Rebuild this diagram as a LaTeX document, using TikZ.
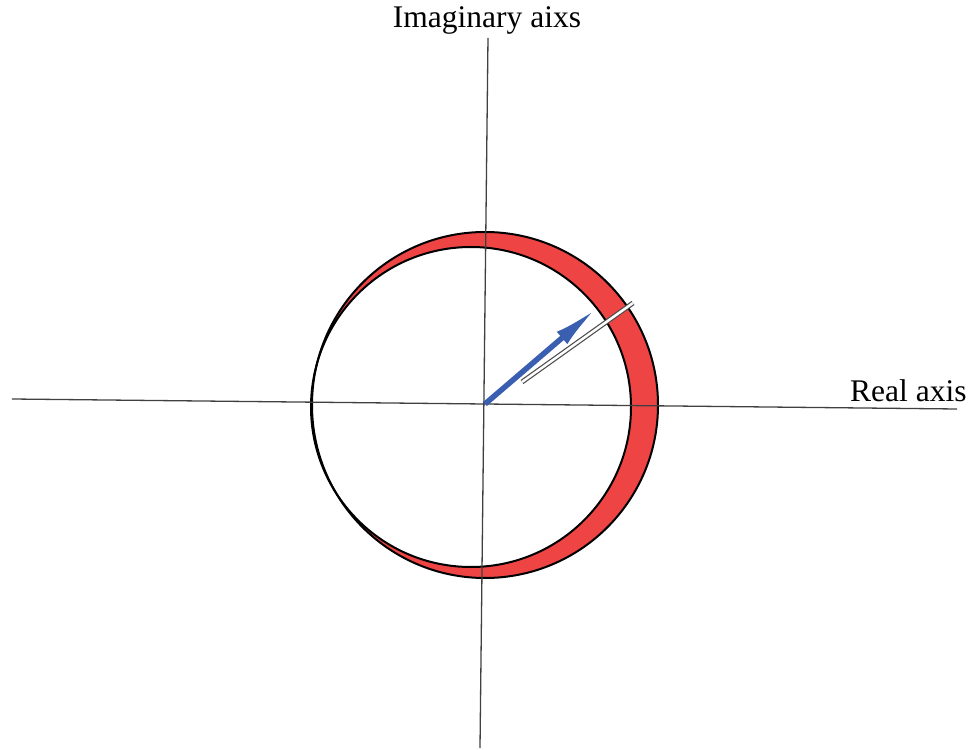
\documentclass[tikz,border=0pt]{standalone}
\usepackage{fontspec}
\setmainfont{Liberation Serif}
\usetikzlibrary{arrows.meta}
\definecolor{crescentred}{RGB}{238,68,68}
\definecolor{phasorblue}{RGB}{58,95,176}

\begin{document}
\begin{tikzpicture}[x=1pt, y=1pt,
  axis/.style={black!75, line width=1.3pt},
  ring/.style={draw=black, line width=2pt},
  lbl/.style={inner sep=0pt, font=\fontsize{31.5}{38}\selectfont},
  arr/.style={-{Latex[length=46pt, width=16pt]}, line width=5.5pt, phasorblue},
  ref/.style={draw=black!70, line width=1.2pt, double=white, double distance=2.5pt}
]
\useasboundingbox (-485,-345) rectangle (486,404);
\coordinate (O)  at (0,0);
\coordinate (xL) at (-473,5);
\coordinate (xR) at (472,-5);
\coordinate (yT) at (3,366);
\coordinate (yB) at (-5,-344);
\node[lbl, anchor=base]      (imag) at (2,376)  {Imaginary aixs};
\node[lbl, anchor=base west] (real) at (365,2)  {Real axis};

% shifted circle makes the crescent
\fill[crescentred] (0,-1) circle (173);
\fill[white] (-14,-3) circle (160);
\draw[ring] (0,-1) circle (173);
\draw[ring] (-14,-3) circle (160);

\draw[axis] (xL) -- (xR);
\draw[axis] (yT) -- (yB);

\coordinate (tip) at (112,96);
\coordinate (r1)  at (37,22);
\coordinate (r2)  at (148,101);
\draw[ref] (r1) -- (r2);
\draw[arr] (O) -- (tip);
\end{tikzpicture}
\end{document}
